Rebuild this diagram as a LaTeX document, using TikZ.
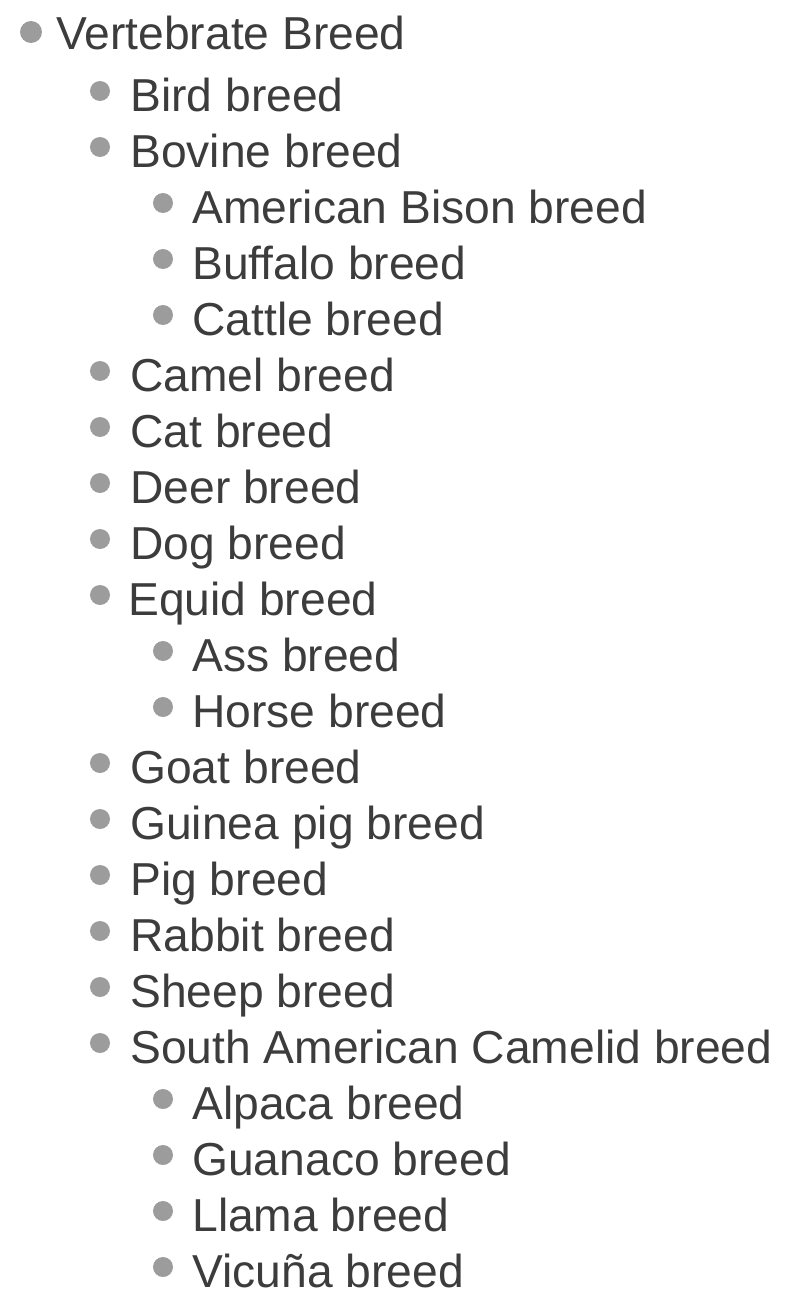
\documentclass[tikz,border=0pt]{standalone}
\usepackage{fontspec}
\setmainfont{Liberation Sans}
\definecolor{itemgray}{RGB}{60,60,60}
\definecolor{dotgray}{RGB}{156,156,156}
\tikzset{
	dot/.style={circle,fill=dotgray,inner sep=0pt,minimum size=0.4cm},
	topdot/.style={dot,minimum size=0.44cm},
	item/.style={anchor=base west,inner sep=0pt,yshift=-0.03cm,text=itemgray,font=\fontsize{26.3}{30}\selectfont}
}
\begin{document}
\begin{tikzpicture}[x=0.02cm,y=-0.02cm]
		\useasboundingbox (0,0) rectangle (802,1308);
		% top level
		\node[topdot] (d0) at (31,32) {}; \node[item] (t0) at (56,48) {Vertebrate Breed};
		% first level and second level
		\node[dot] (d1) at (100,91) {};   \node[item] (t1) at (130,110) {Bird breed};
		\node[dot] (d2) at (100,147) {};  \node[item] (t2) at (130,166) {Bovine breed};
		\node[dot] (d3) at (163,203) {};  \node[item] (t3) at (192,222) {American Bison breed};
		\node[dot] (d4) at (163,259) {};  \node[item] (t4) at (192,278) {Buffalo breed};
		\node[dot] (d5) at (163,315) {};  \node[item] (t5) at (192,334) {Cattle breed};
		\node[dot] (d6) at (100,371) {};  \node[item] (t6) at (130,390) {Camel breed};
		\node[dot] (d7) at (100,427) {};  \node[item] (t7) at (130,446) {Cat breed};
		\node[dot] (d8) at (100,483) {};  \node[item] (t8) at (130,502) {Deer breed};
		\node[dot] (d9) at (100,539) {};  \node[item] (t9) at (130,558) {Dog breed};
		\node[dot] (d10) at (100,595) {}; \node[item] (t10) at (128,614) {Equid breed};
		\node[dot] (d11) at (163,651) {}; \node[item] (t11) at (192,670) {Ass breed};
		\node[dot] (d12) at (163,707) {}; \node[item] (t12) at (192,726) {Horse breed};
		\node[dot] (d13) at (100,763) {}; \node[item] (t13) at (130,782) {Goat breed};
		\node[dot] (d14) at (100,819) {}; \node[item] (t14) at (130,838) {Guinea pig breed};
		\node[dot] (d15) at (100,875) {}; \node[item] (t15) at (130,894) {Pig breed};
		\node[dot] (d16) at (100,931) {}; \node[item] (t16) at (130,950) {Rabbit breed};
		\node[dot] (d17) at (100,987) {}; \node[item] (t17) at (130,1006) {Sheep breed};
		\node[dot] (d18) at (100,1043) {}; \node[item] (t18) at (130,1062) {South American Camelid breed};
		\node[dot] (d19) at (163,1099) {}; \node[item] (t19) at (192,1118) {Alpaca breed};
		\node[dot] (d20) at (163,1155) {}; \node[item] (t20) at (192,1174) {Guanaco breed};
		\node[dot] (d21) at (163,1211) {}; \node[item] (t21) at (192,1230) {Llama breed};
		\node[dot] (d22) at (163,1267) {}; \node[item] (t22) at (192,1286) {Vicuña breed};
	\end{tikzpicture}
\end{document}
